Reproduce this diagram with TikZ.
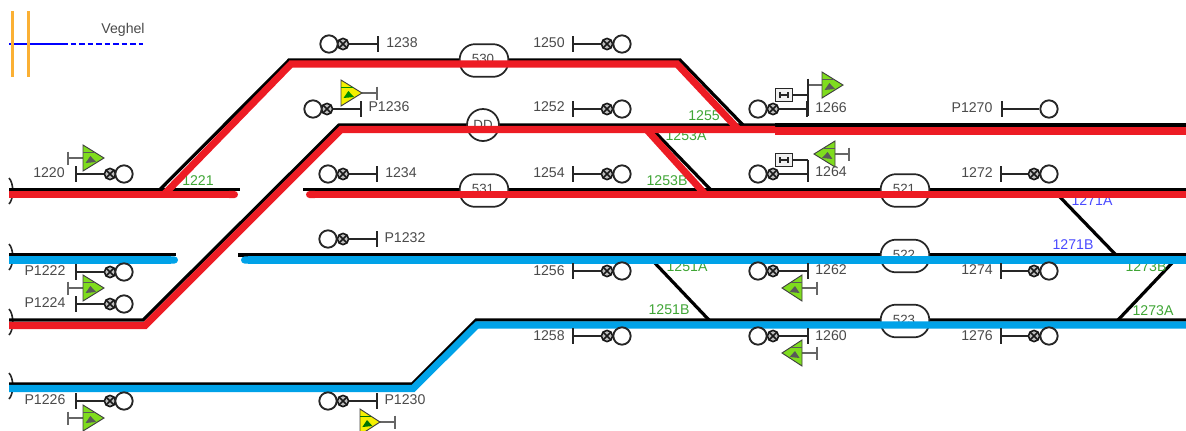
\documentclass[tikz,border=0pt]{standalone}
\usepackage{fontspec}
\usetikzlibrary{arrows.meta}
\setmainfont{Liberation Sans}
\definecolor{trkred}{HTML}{ED1C24}
\definecolor{trkblue}{HTML}{00A2E8}
\definecolor{lampgreen}{HTML}{7FDC1E}
\definecolor{lampyellow}{HTML}{F5F000}
\definecolor{labgrey}{HTML}{4A4A4A}
\definecolor{labgreen}{HTML}{3FA535}
\definecolor{labblue}{HTML}{4A4AFF}
\definecolor{legorange}{HTML}{FBB034}
\tikzset{
 sigline/.style={draw=black!85,line width=1.3pt},
 sigstub/.style={draw=black!60,line width=1.2pt},
 bigl/.style={circle,draw=black!85,fill=white,line width=1.4pt,minimum size=13pt,inner sep=0pt},
 smalll/.style={circle,draw=black!90,fill=black!25,line width=1.2pt,minimum size=8.4pt,inner sep=0pt,path picture={\draw[black!90,line width=1.2pt] (path picture bounding box.south west)--(path picture bounding box.north east) (path picture bounding box.north west)--(path picture bounding box.south east);}},
 lab/.style={text=labgrey,font=\fontsize{10.6pt}{12pt}\selectfont,inner sep=0pt},
 glab/.style={text=labgreen,font=\fontsize{10.6pt}{12pt}\selectfont,inner sep=0pt},
 blab/.style={text=labblue,font=\fontsize{10.6pt}{12pt}\selectfont,inner sep=0pt},
 oval/.style={draw=black!85,fill=white,line width=1.3pt,rounded corners=11.5pt,minimum width=36.5pt,minimum height=24.5pt,inner sep=0pt},
 ovaltext/.style={font=\fontsize{10pt}{11pt}\selectfont,text=labgrey,inner sep=0pt},
 blk/.style={draw=black,line width=2.4pt,line join=miter},
 redt/.style={draw=trkred,line width=5.3pt,line join=miter},
 blut/.style={draw=trkblue,line width=5.3pt,line join=miter},
 relay/.style={draw=black!85,fill=black!6,line width=1.2pt,minimum width=13pt,minimum height=9.5pt,inner sep=0pt},
 x=0.75pt,y=-0.75pt
}
% name, bar x, lamp-small x, lamp-big x, y
\newcommand{\sigsym}[5]{%
 \draw[sigline] (#2,#5-8) -- (#2,#5+8);
 \coordinate (#1b) at (#2,#5);
 \node[smalll] (#1s) at (#3,#5) {};
 \node[bigl] (#1c) at (#4,#5) {};
 \draw[sigline] (#1b) -- (#1s);
}
% name, bar x, base x, tip x, y, colour, detail colour
\newcommand{\lamp}[7]{%
 \coordinate (#1b) at (#2,#5);
 \coordinate (#1p) at (#3,#5);
 \draw[sigstub] (#2,#5-6.5) -- (#2,#5+6.5);
 \draw[sigstub] (#1b) -- (#1p);
 \draw[black!75,fill=#6,line width=0.7pt,line join=miter] (#3,#5-13) -- (#4,#5) -- (#3,#5+13) -- cycle;
 \draw[#7,line width=0.6pt] (#3,#5-5.5) -- ({#3+0.55*(#4-#3)},#5-5.5);
 \fill[#7] ({#3+0.12*(#4-#3)},#5+5) -- ({#3+0.35*(#4-#3)},#5-2) -- ({#3+0.62*(#4-#3)},#5+4) -- cycle;
}
\begin{document}
\begin{tikzpicture}
\useasboundingbox (0,0) rectangle (1186,430);
% legend
\coordinate (va) at (9,44); \coordinate (vb) at (62,44); \coordinate (vc) at (143,44);
\coordinate (oa) at (12.5,11); \coordinate (ob) at (12.5,77); \coordinate (oc) at (28.5,11); \coordinate (od) at (28.5,77);
\draw[blue,line width=1.8pt] (va) -- (vb);
\draw[blue,line width=1.8pt,dash pattern=on 4.2pt off 2.2pt] (vb) -- (vc);
\draw[legorange,line width=2.3pt] (oa) -- (ob);
\draw[legorange,line width=2.3pt] (oc) -- (od);
\node[lab] (veghel) at (123,30) {Veghel};
% clipped arcs at left edge
\foreach \n/\yy in {e1/191,e2/257,e3/322,e4/386}{
 \draw[black!85,line width=1.2pt] (9,\yy-13) .. controls (14,\yy-8) and (14,\yy+8) .. (9,\yy+13);
}
% black rails
\coordinate (a1) at (9,189.5); \coordinate (a2) at (160,189.5); \coordinate (a3) at (240,189.5);
\coordinate (a4) at (289,60); \coordinate (a5) at (680,60); \coordinate (a6) at (743,125);
\coordinate (b1) at (9,320); \coordinate (b2) at (143,320); \coordinate (b3) at (339,125); \coordinate (b4) at (775,125); \coordinate (b5) at (1186,125);
\coordinate (c1) at (303,189.5); \coordinate (c2) at (1186,189.5);
\coordinate (d1) at (9,254.5); \coordinate (d2) at (176,254.5); \coordinate (d3) at (238,255); \coordinate (d4) at (1186,255);
\coordinate (e1) at (9,384); \coordinate (e2) at (412,384); \coordinate (e3) at (476,320); \coordinate (e4) at (1186,320);
\coordinate (x1) at (653,130); \coordinate (x2) at (711,190);
\coordinate (x3) at (652,260); \coordinate (x4) at (709,320);
\coordinate (x5) at (1058,195); \coordinate (x6) at (1116,255);
\coordinate (x7) at (1173,262); \coordinate (x8) at (1118,320);
\draw[blk] (a1) -- (a3);
\draw[blk] (a2) -- (a4) -- (a5) -- (a6);
\draw[blk] (b1) -- (b2) -- (b3) -- (b5);
\draw[line width=3pt] (b4) -- (b5);
\draw[blk] (c1) -- (c2);
\draw[blk] (d1) -- (d2);
\draw[blk] (d3) -- (d4);
\draw[blk] (e1) -- (e2) -- (e3) -- (e4);
\draw[blk] (x1) -- (x2);
\draw[blk] (x3) -- (x4);
\draw[blk] (x5) -- (x6);
\draw[blk] (x7) -- (x8);
% platforms
\node[oval] (p530) at (484,60.5) {};
\node[oval] (p531) at (484,190.5) {};
\node[oval] (p521) at (905,190.5) {};
\node[oval] (p522) at (905,256) {};
\node[oval] (p523) at (905,321) {};
\node[circle,draw=black!85,fill=white,line width=1.3pt,minimum size=24pt,inner sep=0pt] (pdd) at (483,125) {};
\node[ovaltext] (t530) at (483,59) {530};
\node[ovaltext] (t531) at (483,189) {531};
\node[ovaltext] (t521) at (904,189) {521};
\node[ovaltext] (t522) at (904,254.5) {522};
\node[ovaltext] (t523) at (904,319.5) {523};
\node[ovaltext] (tdd) at (483,124.5) {DD};
% track labels
\node[glab] (l1221) at (198,181) {1221};
\node[glab] (l1255) at (704,116) {1255};
\node[glab] (l1253a) at (686,136) {1253A};
\node[glab] (l1253b) at (667,181) {1253B};
\node[glab] (l1251a) at (687,267) {1251A};
\node[glab] (l1251b) at (669,310) {1251B};
\node[glab] (l1273b) at (1146,267) {1273B};
\node[glab] (l1273a) at (1153,311) {1273A};
\node[blab] (l1271a) at (1092,201) {1271A};
\node[blab] (l1271b) at (1073,245) {1271B};
% coloured rails
\coordinate (ra1) at (9,194.5); \coordinate (ra2) at (238,194.5); \coordinate (ra3) at (164,194.5);
\coordinate (ra4) at (291,64); \coordinate (ra5) at (677,64); \coordinate (ra6) at (738,129);
\coordinate (rb1) at (9,325.5); \coordinate (rb2) at (145,325.5); \coordinate (rb3) at (341,129.5); \coordinate (rb4) at (775,129.5);
\coordinate (rb5) at (775,131); \coordinate (rb6) at (1186,131);
\coordinate (rc1) at (306,194.5); \coordinate (rc2) at (1186,194.5);
\coordinate (rx1) at (647,130); \coordinate (rx2) at (704,193);
\coordinate (rd1) at (9,260); \coordinate (rd2) at (178,260); \coordinate (rd3) at (241,260); \coordinate (rd4) at (1186,260);
\coordinate (re1) at (9,388.5); \coordinate (re2) at (413,388.5); \coordinate (re3) at (477,325); \coordinate (re4) at (1186,325);
\draw[redt,-{Round Cap[]}] (ra1) -- (ra2);
\draw[redt] (ra3) -- (ra4) -- (ra5) -- (ra6);
\draw[redt] (rb1) -- (rb2) -- (rb3) -- (rb4);
\draw[redt] (rb5) -- (rb6);
\draw[redt,{Round Cap[]}-] (rc1) -- (rc2);
\draw[redt] (rx1) -- (rx2);
\draw[blut,-{Round Cap[]}] (rd1) -- (rd2);
\draw[blut,{Round Cap[]}-] (rd3) -- (rd4);
\draw[blut] (re1) -- (re2) -- (re3) -- (re4);
% signals
\sigsym{s1238}{378}{343}{329}{44}
\sigsym{s1236}{361}{327}{313}{109}
\sigsym{s1234}{377}{343}{328}{174}
\sigsym{s1232}{377}{343}{328}{239}
\sigsym{s1230}{377}{343}{328}{401}
\sigsym{s1266}{807}{773}{758}{109}
\sigsym{s1264}{808}{773}{758}{174}
\sigsym{s1262}{808}{773}{758}{271}
\sigsym{s1260}{808}{773}{758}{336}
\sigsym{s1220}{76}{110}{124}{174}
\sigsym{s1222}{76}{110}{124}{272}
\sigsym{s1224}{76}{110}{124}{304}
\sigsym{s1226}{76}{110}{124}{401}
\sigsym{s1250}{573}{607}{622}{44}
\sigsym{s1252}{573}{607}{622}{109}
\sigsym{s1254}{573}{607}{622}{174}
\sigsym{s1256}{573}{607}{622}{271}
\sigsym{s1258}{573}{607}{622}{336}
\sigsym{s1272}{1001}{1034}{1049}{174}
\sigsym{s1274}{1001}{1034}{1049}{271}
\sigsym{s1276}{1001}{1034}{1049}{336}
% P1270 has no small lamp
\draw[sigline] (1002,101) -- (1002,117);
\coordinate (s1270b) at (1002,109);
\node[bigl] (s1270c) at (1049,109) {};
\draw[sigline] (s1270b) -- (s1270c);
% lamps
\lamp{t1220}{68}{83}{104}{158}{lampgreen}{black!65}
\lamp{t1224}{68}{83}{104}{288}{lampgreen}{black!65}
\lamp{t1226}{68}{83}{104}{418}{lampgreen}{black!65}
\lamp{t1236}{377}{341}{362}{93}{lampyellow}{green!55!black}
\lamp{t1230}{395}{360}{380}{422}{lampyellow}{green!45!black}
\lamp{t1266}{808}{822}{843}{85}{lampgreen}{black!65}
\lamp{t1264}{849}{835}{814}{154}{lampgreen}{black!65}
\lamp{t1262}{817}{802}{782}{288}{lampgreen}{black!65}
\lamp{t1260}{817}{802}{782}{353}{lampgreen}{black!65}
% relay boxes
\node[relay] (r1266) at (784,95) {};
\node[relay] (r1264) at (784,160) {};
\foreach \b in {r1266,r1264}{
 \draw[black!85,line width=0.9pt] ([xshift=-3pt]\b.center) -- ([xshift=3pt]\b.center)
   ([xshift=-3pt,yshift=-2pt]\b.center) -- ([xshift=-3pt,yshift=2pt]\b.center)
   ([xshift=3pt,yshift=-2pt]\b.center) -- ([xshift=3pt,yshift=2pt]\b.center);
}
\coordinate (j1266a) at (808,79); \coordinate (j1266b) at (808,116); \coordinate (j1266m) at (808,95);
\coordinate (j1264a) at (808,160); \coordinate (j1264b) at (808,181);
\draw[sigline] (j1266a) -- (j1266b);
\draw[sigline] (r1266) -- (j1266m);
\draw[sigline] (j1264a) -- (j1264b);
\draw[sigline] (r1264) -- (j1264a);
% signal labels
\node[lab] (n1220) at (49,173) {1220};
\node[lab] (n1222) at (45,271) {P1222};
\node[lab] (n1224) at (45,303) {P1224};
\node[lab] (n1226) at (45,400) {P1226};
\node[lab] (n1238) at (402,43) {1238};
\node[lab] (n1236) at (389,107) {P1236};
\node[lab] (n1234) at (401,173) {1234};
\node[lab] (n1232) at (405,238) {P1232};
\node[lab] (n1230) at (405,400) {P1230};
\node[lab] (n1250) at (549,43) {1250};
\node[lab] (n1252) at (549,107) {1252};
\node[lab] (n1254) at (549,173) {1254};
\node[lab] (n1256) at (549,271) {1256};
\node[lab] (n1258) at (549,336) {1258};
\node[lab] (n1266) at (831,108) {1266};
\node[lab] (n1264) at (831,172) {1264};
\node[lab] (n1262) at (831,270) {1262};
\node[lab] (n1260) at (831,336) {1260};
\node[lab] (n1270) at (972,108) {P1270};
\node[lab] (n1272) at (977,173) {1272};
\node[lab] (n1274) at (977,270) {1274};
\node[lab] (n1276) at (977,336) {1276};
\end{tikzpicture}
\end{document}
